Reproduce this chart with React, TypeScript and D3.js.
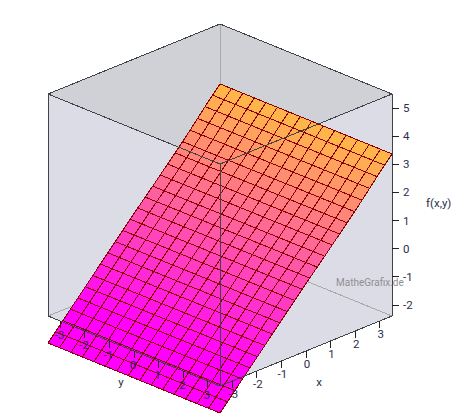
import * as d3 from "d3";

const width = 468;
const height = 419;

const axisTicks = [-3, -2, -1, 0, 1, 2, 3];
const xAxisTicks = [-3, -2, -1, 0, 1, 2, 3];
const zTicks = [-2, -1, 0, 1, 2, 3, 4, 5];

// surface height per grid row along x
const rowHeights = [
  -3.35, -3.06, -2.77, -2.47, -2.18, -1.89, -1.6, -1.3, -1.01, -0.72, -0.43, -0.14, 0.15, 0.43, 0.71, 1.0,
  1.28, 1.57, 1.86, 2.16, 2.47, 2.78, 3.08, 3.37,
];
const columnCount = 15;

const xDomain: [number, number] = [-3.5, 3.5];
const yDomain: [number, number] = [3.5, -3.5];
const zDomain: [number, number] = [-2.39, 5.5];

// oblique projection: each data axis adds its own screen offset
const xToLeft = d3.scaleLinear().domain(xDomain).range([0, 172]);
const xToUp = d3.scaleLinear().domain(xDomain).range([0, -70]);
const yToLeft = d3.scaleLinear().domain(yDomain).range([0, -172]);
const yToUp = d3.scaleLinear().domain(yDomain).range([0, -70]);
const zToUp = d3.scaleLinear().domain(zDomain).range([0, -222]);

function project(x: number, y: number, z: number): [number, number] {
  return [220 + xToLeft(x) + yToLeft(y), 386 + xToUp(x) + yToUp(y) + zToUp(z)];
}

const color = d3.scaleLinear<string>().domain(zDomain).range(["#ff00ff", "#ffff00"]).clamp(true);
const rowX = d3.scaleLinear().domain([0, rowHeights.length - 1]).range(xDomain);
const colY = d3.scaleLinear().domain([0, columnCount]).range([-3.5, 3.5]);

const [xMin, xMax] = [-3.5, 3.5];
const [yMin, yMax] = [-3.5, 3.5];
const [zMin, zMax] = zDomain;

const poly = d3.line().curve(d3.curveLinearClosed);

export default function App() {
  const cells: { d: string; fill: string; key: string }[] = [];
  rowHeights.slice(0, -1).forEach((z0, i) => {
    const z1 = rowHeights[i + 1];
    d3.range(columnCount).forEach((j) => {
      const x0 = rowX(i);
      const x1 = rowX(i + 1);
      const y0 = colY(j);
      const y1 = colY(j + 1);
      cells.push({
        key: `${i}-${j}`,
        d: poly([project(x0, y0, z0), project(x1, y0, z1), project(x1, y1, z1), project(x0, y1, z0)]) as string,
        fill: color((z0 + z1) / 2),
      });
    });
  });

  const wall = poly([
    project(xMax, yMin, zMax),
    project(xMin, yMin, zMax),
    project(xMin, yMin, zMin),
    project(xMin, yMax, zMin),
    project(xMax, yMax, zMin),
    project(xMax, yMax, zMax),
  ]) as string;
  const top = poly([
    project(xMax, yMin, zMax),
    project(xMin, yMin, zMax),
    project(xMin, yMax, zMax),
    project(xMax, yMax, zMax),
  ]) as string;
  const seg = (a: [number, number], b: [number, number]) => `M${a[0]},${a[1]}L${b[0]},${b[1]}`;

  const backLines = [
    seg(project(xMax, yMin, zMax), project(xMax, yMin, zMin)),
    seg(project(xMax, yMin, zMin), project(xMin, yMin, zMin)),
    seg(project(xMax, yMin, zMin), project(xMax, yMax, zMin)),
  ].join("");
  const outline = [
    seg(project(xMin, yMin, zMin), project(xMin, yMin, zMax)),
    seg(project(xMin, yMin, zMax), project(xMax, yMin, zMax)),
    seg(project(xMax, yMin, zMax), project(xMax, yMax, zMax)),
    seg(project(xMax, yMax, zMax), project(xMax, yMax, zMin)),
    seg(project(xMax, yMax, zMin), project(xMin, yMax, zMin)),
    seg(project(xMin, yMax, zMin), project(xMin, yMin, zMin)),
    seg(project(xMin, yMin, zMax), project(xMin, yMax, zMax)),
    seg(project(xMin, yMax, zMax), project(xMax, yMax, zMax)),
    seg(project(xMin, yMax, zMax), project(xMin, yMax, zMin)),
  ].join("");

  return (
    <svg
      width={width}
      height={height}
      style={{ position: "absolute", left: 0, top: 0, background: "#fff" }}
      fontFamily="Roboto, 'Open Sans', sans-serif"
      fontSize={11.5}
    >
      <path d={wall} fill="#dcdce6" />
      <path d={top} fill="#d0d1d6" />
      <path d={backLines} stroke="#a8a8ac" strokeWidth={1} fill="none" shapeRendering="crispEdges" />

      {cells.map((c) => (
        <path key={c.key} d={c.d} fill={c.fill} stroke="#8b0000" strokeWidth={1} shapeRendering="crispEdges" />
      ))}

      <path d={outline} stroke="#404448" strokeWidth={1} fill="none" shapeRendering="crispEdges" />

      {axisTicks.map((t) => {
        const [px, py] = project(xMin, t, zMin);
        return (
          <g key={`y${t}`}>
            <line x1={px} x2={px} y1={py} y2={py + 7} stroke="#222" shapeRendering="crispEdges" />
            <text x={px - 1} y={py + 18} textAnchor="middle" fill="#2b2f4a">
              {t}
            </text>
          </g>
        );
      })}
      {xAxisTicks.map((t) => {
        const [px, py] = project(t, yMax, zMin);
        return (
          <g key={`x${t}`}>
            <line x1={px} x2={px} y1={py} y2={py + 7} stroke="#222" shapeRendering="crispEdges" />
            <text x={px + 1} y={py + 17} textAnchor="middle" fill="#2b2f4a">
              {t}
            </text>
          </g>
        );
      })}
      {zTicks.map((t) => {
        const [px, py] = project(xMax, yMax, t);
        return (
          <g key={`z${t}`}>
            <line x1={px} x2={px + 7} y1={py} y2={py} stroke="#222" shapeRendering="crispEdges" />
            <text x={px + 11} y={py + 4} fill="#2b2f4a">
              {t}
            </text>
          </g>
        );
      })}

      <text x={121} y={386} textAnchor="middle" fill="#2b2f4a">
        y
      </text>
      <text x={319} y={386} textAnchor="middle" fill="#2b2f4a">
        x
      </text>
      <text x={426} y={207} fill="#2b2f4a">
        f(x,y)
      </text>
      <text x={336} y={286} fill="#8f8f94" fontSize={10}>
        MatheGrafix.de
      </text>
    </svg>
  );
}
